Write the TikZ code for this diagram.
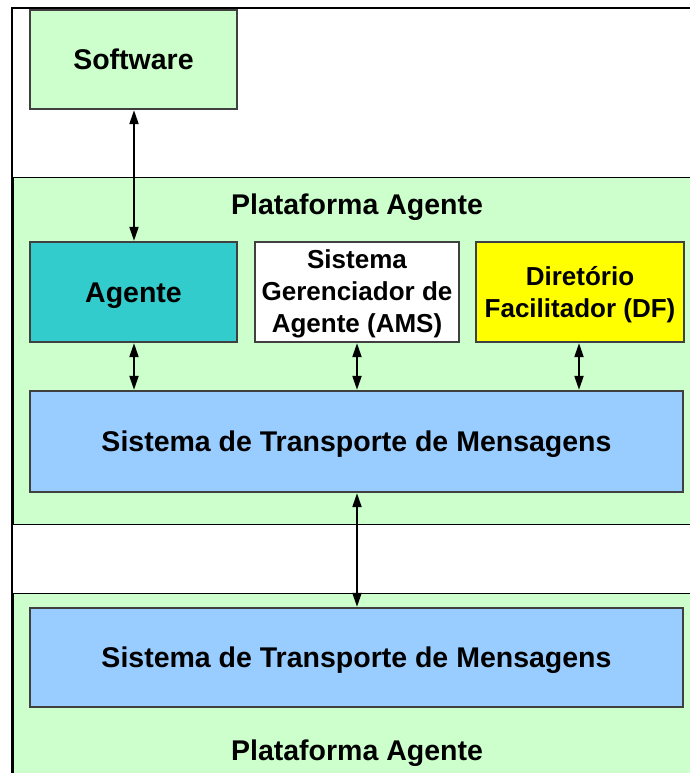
\documentclass[tikz,border=0pt]{standalone}
\usepackage{fontspec}
\setmainfont{Liberation Sans}
\usetikzlibrary{arrows.meta}
\definecolor{platgreen}{HTML}{CCFFCC}
\definecolor{agentcyan}{HTML}{33CCCC}
\definecolor{dfyellow}{HTML}{FFFF00}
\definecolor{stmblue}{HTML}{99CCFF}
\definecolor{edgegray}{HTML}{404040}
\tikzset{
  box/.style={draw=edgegray, line width=1.3pt, inner sep=0pt, align=center,
    font=\fontsize{28.5}{31}\selectfont\bfseries},
  oneline/.style={text height=20.5pt, text depth=0pt},
  smalltext/.style={inner sep=0pt, align=center, font=\fontsize{26}{32}\selectfont\bfseries},
  plat/.style={draw=black, line width=1pt, fill=platgreen, inner sep=0pt},
  label/.style={inner sep=0pt, text height=20.5pt, text depth=0pt, font=\fontsize{28.5}{31}\selectfont\bfseries},
  link/.style={line width=2pt, {Triangle[width=9pt,length=14pt]}-{Triangle[width=9pt,length=14pt]}, shorten <=0.5pt, shorten >=0.5pt},
  frame/.style={line width=2.5pt, draw=black}
}
\begin{document}
\begin{tikzpicture}[x=1pt,y=-1pt]
\useasboundingbox (0,0) rectangle (690,773);
\clip (0,0) rectangle (690,773);
\fill[white] (0,0) rectangle (690,773);
% outer frame
\coordinate (fbl) at (12,780);
\coordinate (ftl) at (12,8);
\coordinate (ftr) at (700,8);
\draw[frame] (fbl) -- (ftl) -- (ftr);
% platforms
\node[plat, minimum width=690pt, minimum height=347pt, anchor=north west] (plat1) at (13,177) {};
\node[plat, minimum width=690pt, minimum height=200pt, anchor=north west] (plat2) at (13,593) {};
\node[label] (plat1title) at (357,204) {Plataforma Agente};
\node[label] (plat2title) at (357,750) {Plataforma Agente};
% boxes
\node[box, oneline, fill=platgreen, minimum width=207pt, minimum height=99pt] (software) at (133.5,59.5) {Software};
\node[box, oneline, fill=agentcyan, minimum width=207pt, minimum height=100pt] (agente) at (133.5,292) {Agente};
\node[box, fill=white, minimum width=204pt, minimum height=100pt] (ams) at (357,292) {};
\node[smalltext] (amstext) at (357,294) {Sistema\\Gerenciador de\\Agente (AMS)};
\node[box, fill=dfyellow, minimum width=208pt, minimum height=100pt] (df) at (580,292) {};
\node[smalltext] (dftext) at (580,294.5) {Diretório\\Facilitador (DF)};
\node[box, oneline, fill=stmblue, minimum width=653pt, minimum height=101pt] (stm1) at (356.5,441.5) {Sistema de Transporte de Mensagens};
\node[box, oneline, fill=stmblue, minimum width=653pt, minimum height=99pt] (stm2) at (356.5,657.5) {Sistema de Transporte de Mensagens};
% connectors
\draw[link] (software.south -| 134,0) -- (agente.north -| 134,0);
\draw[link] (agente.south -| 134,0) -- (stm1.north -| 134,0);
\draw[link] (ams.south -| 357,0) -- (stm1.north -| 357,0);
\draw[link] (df.south -| 579,0) -- (stm1.north -| 579,0);
\draw[link] (stm1.south -| 357,0) -- (stm2.north -| 357,0);
\end{tikzpicture}
\end{document}
